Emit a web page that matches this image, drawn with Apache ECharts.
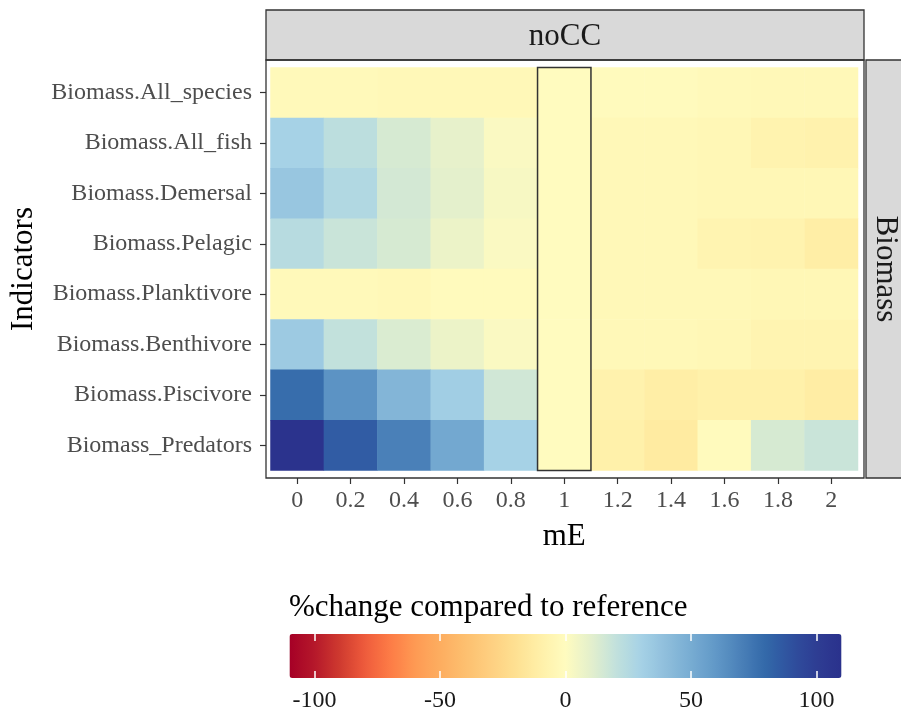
<!DOCTYPE html>
<html>
<head>
<meta charset="utf-8">
<script src="https://cdn.jsdelivr.net/npm/echarts@6/dist/echarts.min.js"></script>
<style>
html,body{margin:0;padding:0;background:#fff;}
#chart{width:901px;height:713px;}
</style>
</head>
<body>
<div id="chart"></div>
<script>
// ---- data ----
var mE = ['0','0.2','0.4','0.6','0.8','1','1.2','1.4','1.6','1.8','2'];
var indicators = ['Biomass.All_species','Biomass.All_fish','Biomass.Demersal','Biomass.Pelagic',
                  'Biomass.Planktivore','Biomass.Benthivore','Biomass.Piscivore','Biomass_Predators'];
var allSpecies  = [-2, -2, -3, -3, -3, 0, -1, -1, -2, -3, -3];
var allFish     = [30, 22, 14, 9, 2, 0, -3, -3, -4, -7, -8];
var demersal    = [36, 26, 15, 10, 3, 0, -3, -3, -4, -4, -4];
var pelagic     = [24, 18, 14, 7, 2, 0, -3, -3, -6, -7, -11];
var planktivore = [-2, -2, -3, -1, -1, 0, -3, -3, -3, -4, -4];
var benthivore  = [34, 20, 13, 7, 2, 0, -3, -3, -4, -6, -6];
var piscivore   = [78, 62, 45, 32, 16, 0, -8, -11, -9, -9, -12];
var predators   = [108, 85, 70, 52, 30, 0, -9, -13, -1, 14, 18];
var rows = [allSpecies, allFish, demersal, pelagic, planktivore, benthivore, piscivore, predators];
var refIndex = 5; // mE = 1 reference column
var legendTicks = [-100, -50, 0, 50, 100];
var legendMin = -110, legendMax = 110;

// colour scale stops, evenly spaced from legendMin to legendMax
var scaleColors = ['#a50026','#b5182b','#cf3a2f','#ee5b3c','#fd7b46','#fe9a53','#fdad60','#fdbf6f',
  '#fecf80','#fee092','#fff0a8','#fffbbf','#e4f0cc','#c2e1dc','#a6d2e6','#8fbedc','#77acd2',
  '#6198c7','#4a80b8','#3268a9','#2f509e','#2e3d93','#2a318c'];

var heat = [];
rows.forEach(function (r, yi) { r.forEach(function (v, xi) { heat.push([xi, yi, v]); }); });

var FONT = "'Liberation Serif','Times New Roman',serif";
var chart = echarts.init(document.getElementById('chart'), null, {renderer: 'canvas'});

var P = {l: 266, r: 864, t: 60, b: 478};
var G = {l: 270.5, t: 67.5, w: 587.5, h: 403};

chart.setOption({
  animation: false,
  backgroundColor: '#ffffff',
  grid: [
    {left: G.l, top: G.t, width: G.w, height: G.h},
    {left: 289.5, top: 634, width: 552, height: 44}
  ],
  xAxis: [
    {type: 'category', gridIndex: 0, data: mE, offset: 7.5,
     axisLine: {show: false},
     axisTick: {show: true, alignWithLabel: true, length: 6, lineStyle: {color: '#333', width: 1.2}},
     axisLabel: {fontFamily: FONT, fontSize: 24, color: '#4d4d4d', margin: 11},
     splitLine: {show: false},
     name: 'mE', nameLocation: 'middle', nameGap: 43,
     nameTextStyle: {fontFamily: FONT, fontSize: 31, color: '#000'}},
    {type: 'value', gridIndex: 1, min: legendMin, max: legendMax, position: 'bottom', z: 10,
     axisLine: {show: false},
     axisTick: {show: true, inside: true, length: 7, customValues: legendTicks, lineStyle: {color: '#fff', width: 1.5}},
     axisLabel: {customValues: legendTicks, fontFamily: FONT, fontSize: 24, color: '#1a1a1a', margin: 11},
     splitLine: {show: false}},
    {type: 'value', gridIndex: 1, min: legendMin, max: legendMax, position: 'top', z: 10,
     axisLine: {show: false},
     axisTick: {show: true, inside: true, length: 7, customValues: legendTicks, lineStyle: {color: '#fff', width: 1.5}},
     axisLabel: {show: false},
     splitLine: {show: false}}
  ],
  yAxis: [
    {type: 'category', gridIndex: 0, data: indicators, inverse: true, offset: 4.5,
     axisLine: {show: false},
     axisTick: {show: true, alignWithLabel: true, length: 6, lineStyle: {color: '#333', width: 1.2}},
     axisLabel: {fontFamily: FONT, fontSize: 24, color: '#4d4d4d', margin: 14},
     splitLine: {show: false},
     name: 'Indicators', nameLocation: 'middle', nameGap: 227, nameRotate: 90,
     nameTextStyle: {fontFamily: FONT, fontSize: 31, color: '#000'}},
    {type: 'value', gridIndex: 1, show: false}
  ],
  visualMap: {
    type: 'continuous', min: legendMin, max: legendMax, seriesIndex: 0,
    orient: 'horizontal', left: 289.5, top: 634, itemWidth: 44, itemHeight: 552,
    calculable: false, padding: 0, text: null, showLabel: false, hoverLink: false,
    inRange: {color: scaleColors}
  },
  graphic: [
    {type: 'rect', shape: {x: P.l, y: 10, width: P.r - P.l, height: P.t - 10}, z: 0,
     style: {fill: '#d9d9d9', stroke: '#333', lineWidth: 1.3}},
    {type: 'text', x: (P.l + P.r) / 2, y: 37, z: 5,
     style: {text: 'noCC', font: '31px ' + FONT, fill: '#1a1a1a', textAlign: 'center', textVerticalAlign: 'middle'}},
    {type: 'rect', shape: {x: 866, y: P.t, width: 60, height: P.b - P.t}, z: 0,
     style: {fill: '#d9d9d9', stroke: '#333', lineWidth: 1.3}},
    {type: 'text', x: 885, y: 269, rotation: -Math.PI / 2, z: 5,
     style: {text: 'Biomass', font: '31px ' + FONT, fill: '#1a1a1a', textAlign: 'center', textVerticalAlign: 'middle'}},
    {type: 'rect', shape: {x: P.l, y: P.t, width: P.r - P.l, height: P.b - P.t}, z: 20,
     style: {fill: 'none', stroke: '#333', lineWidth: 1.3}},
    {type: 'text', x: 289, y: 608, z: 5,
     style: {text: '%change compared to reference', font: '31px ' + FONT, fill: '#000', textAlign: 'left', textVerticalAlign: 'middle'}}
  ],
  series: [
    {type: 'heatmap', xAxisIndex: 0, yAxisIndex: 0, data: heat, itemStyle: {borderWidth: 0}},
    {type: 'custom', xAxisIndex: 0, yAxisIndex: 0, z: 10, data: [[refIndex]],
     renderItem: function (params, api) {
       var x = api.value(0);
       var top = api.coord([x, 0]);
       var bot = api.coord([x, indicators.length - 1]);
       var sz = api.size([1, 1]);
       return {type: 'rect',
         shape: {x: top[0] - sz[0] / 2, y: top[1] - sz[1] / 2, width: sz[0], height: bot[1] - top[1] + sz[1]},
         style: {fill: 'none', stroke: '#333', lineWidth: 1.5}};
     }}
  ]
});
</script>
</body>
</html>
